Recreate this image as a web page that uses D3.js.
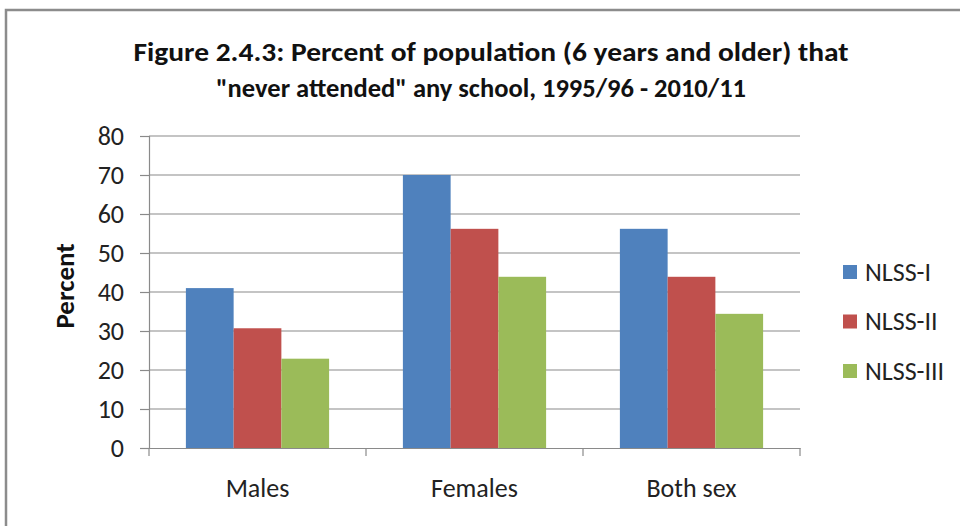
<!DOCTYPE html>
<html><head><meta charset="utf-8">
<script src="https://cdn.jsdelivr.net/npm/d3@7"></script>
<style>body{margin:0;background:#fff}svg{display:block}</style>
</head><body>
<svg id="c" width="960" height="526"></svg>
<script>
const categories = ["Males", "Females", "Both sex"];
const seriesNames = ["NLSS-I", "NLSS-II", "NLSS-III"];
const nlss1 = [41, 70, 56.2];
const nlss2 = [30.7, 56.2, 43.9];
const nlss3 = [22.9, 43.9, 34.4];
const yTicks = [0, 10, 20, 30, 40, 50, 60, 70, 80];
const colors = ["#4F81BD", "#C0504D", "#9BBB59"];
const titleLines = ['Figure 2.4.3: Percent of population (6 years and older) that', '"never attended" any school, 1995/96 - 2010/11'];

const series = [nlss1, nlss2, nlss3];
const svg = d3.select("#c");
const font = "Carlito, Calibri, 'Open Sans', sans-serif";

// frame
svg.append("rect").attr("x", 6).attr("y", 10).attr("width", 970).attr("height", 530)
  .attr("fill", "#fff").attr("stroke", "#8c8c8c").attr("stroke-width", 2.5);

const L = 149, R = 800, T = 136, B = 448;
const x0 = d3.scaleBand().domain(categories).range([L, R]).paddingInner(0.34).paddingOuter(0.17);
const x1 = d3.scaleBand().domain(seriesNames).range([0, x0.bandwidth()]);
const y = d3.scaleLinear().domain([0, 80]).range([B, T]);

// gridlines
svg.append("g").selectAll("line").data(yTicks.filter(d => d > 0)).join("line")
  .attr("x1", L).attr("x2", R).attr("y1", d => y(d)).attr("y2", d => y(d))
  .attr("stroke", "#8a8a8a").attr("stroke-width", 1.2);

// bars
const g = svg.append("g");
categories.forEach((c, i) => {
  seriesNames.forEach((s, j) => {
    g.append("rect").attr("x", x0(c) + x1(s)).attr("width", x1.bandwidth())
      .attr("y", y(series[j][i])).attr("height", B - y(series[j][i]))
      .attr("fill", colors[j]);
  });
});

// y axis
const ya = svg.append("g").attr("transform", `translate(${L},0)`)
  .call(d3.axisLeft(y).tickValues(yTicks).tickSize(9).tickPadding(16));
ya.select(".domain").attr("stroke", "#8a8a8a").attr("stroke-width", 1.2);
ya.selectAll(".tick line").attr("stroke", "#8a8a8a").attr("stroke-width", 1.2);
ya.selectAll("text").attr("font-family", font).attr("font-size", 26).attr("fill", "#222");

// x axis
const xa = svg.append("g").attr("transform", `translate(0,${B})`)
  .call(d3.axisBottom(x0).tickSize(0));
xa.select(".domain").attr("stroke", "#8a8a8a").attr("stroke-width", 1.2);
xa.selectAll("text").attr("y", 49).attr("dy", null).attr("font-family", font).attr("font-size", 26).attr("fill", "#222");
// category boundary ticks
svg.append("g").selectAll("line").data(d3.range(categories.length + 1)).join("line")
  .attr("x1", d => L + d * (R - L) / categories.length).attr("x2", d => L + d * (R - L) / categories.length)
  .attr("y1", B).attr("y2", B + 8).attr("stroke", "#8a8a8a").attr("stroke-width", 1.2);

// y label
svg.append("text").attr("transform", "translate(74,286) rotate(-90)")
  .attr("text-anchor", "middle").attr("font-family", font).attr("font-weight", "bold")
  .attr("font-size", 27).attr("fill", "#111").text("Percent");

// title
const tw = [715, 530], tx = [491, 481];
titleLines.forEach((t, i) => {
  svg.append("text").attr("x", tx[i]).attr("y", 61 + i * 36).attr("text-anchor", "middle")
    .attr("font-family", font).attr("font-weight", "bold").attr("font-size", 27).attr("fill", "#111")
    .attr("textLength", tw[i]).attr("lengthAdjust", "spacingAndGlyphs").text(t);
});

// legend
const lg = svg.append("g");
seriesNames.forEach((s, j) => {
  const yy = 272 + j * 49.5;
  lg.append("rect").attr("x", 843).attr("y", yy - 7).attr("width", 14).attr("height", 14).attr("fill", colors[j]);
  lg.append("text").attr("x", 865).attr("y", yy + 8.5)
    .attr("font-family", font).attr("font-size", 26).attr("fill", "#222").text(s);
});
</script>
</body></html>
